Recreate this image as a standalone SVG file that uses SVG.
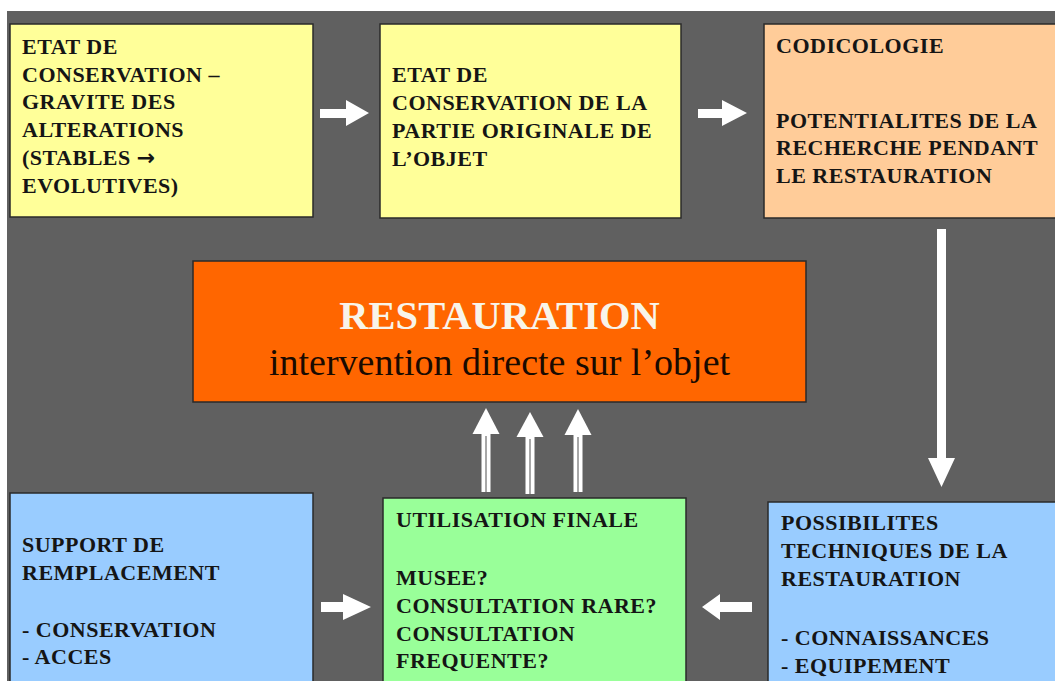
<svg xmlns="http://www.w3.org/2000/svg" width="1055" height="681" viewBox="0 0 1055 681">
<style>
.box{stroke:#2a2a2a;stroke-width:1.5}
.t{font-family:"Liberation Serif","Times New Roman",serif;font-weight:bold;font-size:22px;letter-spacing:0.5px;fill:#151515}
.arr{fill:#ffffff}
</style>
<rect x="0" y="0" width="1055" height="681" fill="#ffffff"/>
<rect x="7" y="11" width="1048" height="670" fill="#606060"/>

<g id="connectors">
  <polygon class="arr" points="320,109 346,109 346,100 369,113 346,126 346,118 320,118"/>
  <polygon class="arr" points="698,109 722,109 722,100 747,113 722,126 722,118 698,118"/>
  <polygon class="arr" points="937,229 946,229 946,458 955,458 941.5,487 928,458 937,458"/>
  <polygon class="arr" points="321,602 343,602 343,594 371,607 343,620 343,612 321,612"/>
  <polygon class="arr" points="752,602 720,602 720,594 702,607 720,620 720,612 752,612"/>
  <g id="up1">
    <polygon class="arr" points="486,408 499.5,434 472.5,434"/>
    <rect class="arr" x="481.5" y="433" width="9" height="59"/>
    <line x1="486" y1="436" x2="486" y2="492" stroke="#8a8a8a" stroke-width="1.5"/>
  </g>
  <g id="up2">
    <polygon class="arr" points="530,412 543.5,437 516.5,437"/>
    <rect class="arr" x="525.5" y="436" width="9" height="58"/>
    <line x1="530" y1="439" x2="530" y2="494" stroke="#8a8a8a" stroke-width="1.5"/>
  </g>
  <g id="up3">
    <polygon class="arr" points="578,409 591.5,435 564.5,435"/>
    <rect class="arr" x="573.5" y="434" width="9" height="58"/>
    <line x1="578" y1="437" x2="578" y2="492" stroke="#8a8a8a" stroke-width="1.5"/>
  </g>
</g>

<g id="etat-conservation">
  <rect class="box" x="10" y="24" width="303" height="193" fill="#ffff99"/>
  <text class="t" x="22" y="54">ETAT DE</text>
  <text class="t" x="22" y="82">CONSERVATION –</text>
  <text class="t" x="22" y="109">GRAVITE DES</text>
  <text class="t" x="22" y="137">ALTERATIONS</text>
  <text class="t" x="22" y="165">(STABLES <tspan font-family="'DejaVu Sans',sans-serif" font-size="22">→</tspan></text>
  <text class="t" x="22" y="193">EVOLUTIVES)</text>
</g>

<g id="etat-partie-originale">
  <rect class="box" x="380" y="24" width="301" height="194" fill="#ffff99"/>
  <text class="t" x="392" y="82">ETAT DE</text>
  <text class="t" x="392" y="110">CONSERVATION DE LA</text>
  <text class="t" x="392" y="138">PARTIE ORIGINALE DE</text>
  <text class="t" x="392" y="166">L’OBJET</text>
</g>

<g id="codicologie">
  <rect class="box" x="764" y="24" width="300" height="194" fill="#ffcc99"/>
  <text class="t" x="776" y="53">CODICOLOGIE</text>
  <text class="t" x="776" y="128">POTENTIALITES DE LA</text>
  <text class="t" x="776" y="155">RECHERCHE PENDANT</text>
  <text class="t" x="776" y="183">LE RESTAURATION</text>
</g>

<g id="restauration">
  <rect class="box" x="193" y="261" width="613" height="141" fill="#ff6600"/>
  <text x="499.5" y="329" text-anchor="middle" font-family="'Liberation Serif','Times New Roman',serif" font-weight="bold" font-size="40.5" fill="#f8f4ea">RESTAURATION</text>
  <text x="499.5" y="375" text-anchor="middle" font-family="'Liberation Serif','Times New Roman',serif" font-size="38" fill="#1a0a00">intervention directe sur l’objet</text>
</g>

<g id="support-remplacement">
  <rect class="box" x="10" y="493" width="303" height="200" fill="#99ccff"/>
  <text class="t" x="22" y="552">SUPPORT DE</text>
  <text class="t" x="22" y="580">REMPLACEMENT</text>
  <text class="t" x="22" y="637">- CONSERVATION</text>
  <text class="t" x="22" y="664">- ACCES</text>
</g>

<g id="utilisation-finale">
  <rect class="box" x="383" y="498" width="303" height="200" fill="#99ff99"/>
  <text class="t" x="396" y="527">UTILISATION FINALE</text>
  <text class="t" x="396" y="585">MUSEE?</text>
  <text class="t" x="396" y="613">CONSULTATION RARE?</text>
  <text class="t" x="396" y="641">CONSULTATION</text>
  <text class="t" x="396" y="668">FREQUENTE?</text>
</g>

<g id="possibilites-techniques">
  <rect class="box" x="768" y="502" width="300" height="200" fill="#99ccff"/>
  <text class="t" x="781" y="530">POSSIBILITES</text>
  <text class="t" x="781" y="558">TECHNIQUES DE LA</text>
  <text class="t" x="781" y="586">RESTAURATION</text>
  <text class="t" x="781" y="645">- CONNAISSANCES</text>
  <text class="t" x="781" y="673">- EQUIPEMENT</text>
</g>
</svg>
